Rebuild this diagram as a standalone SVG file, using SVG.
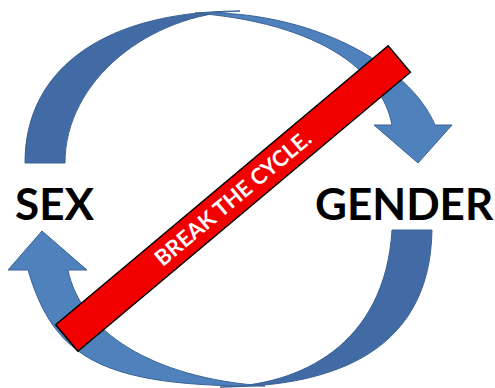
<svg xmlns="http://www.w3.org/2000/svg" width="495" height="388" viewBox="0 0 495 388">
<style>
.back{fill:#426BA5;stroke:#3A6395;stroke-width:1;stroke-linejoin:round}
.front{fill:#4F81BD;stroke:#3A6395;stroke-width:1;stroke-linejoin:round}
.label{font-family:Lato,"Liberation Sans",sans-serif;font-weight:700;font-size:44px;fill:#000}
.banner-text{font-family:Lato,"Liberation Sans",sans-serif;font-weight:700;font-size:22px;fill:#fff}
</style>
<rect width="495" height="388" fill="#fff"/>
<g id="connectors">
  <g id="arrow-sex-to-gender">
    <path class="back" d="M25,163 C25,65 110,11 240,11 C150,14 65,80 65,163 Z"/>
    <path class="front" d="M195,13 C310,9 410,65 435,125 L452,125 L418,163 L374,125 L392,125 C385,85 340,25 195,13 Z"/>
  </g>
  <g id="arrow-gender-to-sex">
    <path class="back" d="M432,230 C430,360 320,387 220,387 C300,386 385,345 392,230 Z"/>
    <path class="front" d="M265,386 C102,387 54,358 28,270 L8,270 L42,231 L87,270 L68,270 C80,330 150,378 265,386 Z"/>
  </g>
</g>
<g id="sex">
  <text class="label" x="15" y="220">SEX</text>
</g>
<g id="gender">
  <text class="label" x="315" y="220">GENDER</text>
</g>
<g id="banner" transform="translate(233,198.5) rotate(-40)">
  <rect x="-217" y="-17.3" width="434" height="34.6" fill="#F20000" stroke="#000" stroke-width="1.5"/>
  <text class="banner-text" x="0" y="7.5" text-anchor="middle" textLength="196" lengthAdjust="spacingAndGlyphs">BREAK THE CYCLE.</text>
</g>
</svg>
